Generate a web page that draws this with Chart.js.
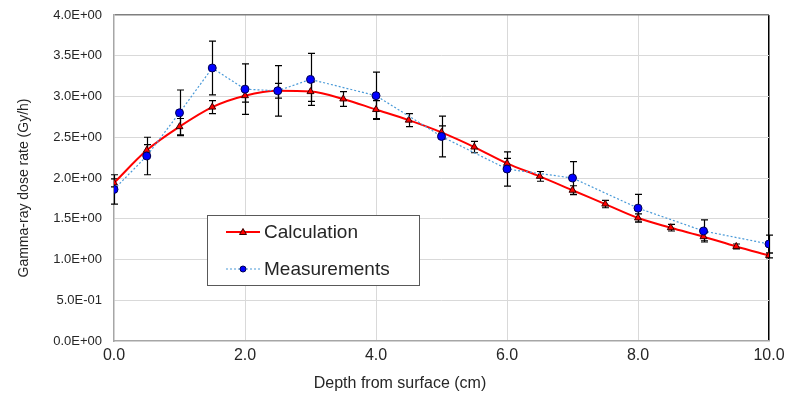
<!DOCTYPE html>
<html>
<head>
<meta charset="utf-8">
<script src="https://cdn.jsdelivr.net/npm/chart.js@4"></script>
<style>
  html, body { margin: 0; padding: 0; background: #fff; }
  #wrap { width: 792px; height: 403px; }
</style>
</head>
<body>
<div id="wrap"><canvas id="c" width="792" height="403"></canvas></div>
<script>
// ---- data ----
const calcDepth = [0,0.5,1,1.5,2,2.5,3,3.5,4,4.5,5,5.5,6,6.5,7,7.5,8,8.5,9,9.5,10];
const calcDose  = [1.94,2.34,2.63,2.87,3.01,3.07,3.06,2.97,2.84,2.71,2.56,2.38,2.18,2.02,1.85,1.68,1.51,1.39,1.28,1.16,1.05];
const calcErr   = [0.05,0.07,0.10,0.08,0.08,0.09,0.12,0.09,0.11,0.08,0.08,0.07,0.06,0.06,0.055,0.045,0.05,0.04,0.05,0.03,0.03];

const measDepth = [0,0.5,1,1.5,2,2.5,3,4,5,6,7,8,9,10];
const measDose  = [1.86,2.27,2.80,3.35,3.09,3.07,3.21,3.01,2.51,2.11,2.00,1.63,1.35,1.19];
const measErr   = [0.18,0.23,0.28,0.33,0.31,0.31,0.32,0.29,0.25,0.21,0.20,0.17,0.135,0.11];

const seriesNames = ['Calculation', 'Measurements'];
const xTitle = 'Depth from surface (cm)';
const yTitle = 'Gamma-ray dose rate (Gy/h)';
const xTicks = [0,2,4,6,8,10];
const yTicks = [0,0.5,1,1.5,2,2.5,3,3.5,4];

const FONT = "'Liberation Sans', Arial, sans-serif";
const TXT = '#262626';

function sci(v) {
  if (v === 0) return '0.0E+00';
  let e = Math.floor(Math.log10(Math.abs(v)) + 1e-9);
  let m = v / Math.pow(10, e);
  const sign = e < 0 ? '-' : '+';
  const ea = Math.abs(e);
  return m.toFixed(1) + 'E' + sign + (ea < 10 ? '0' + ea : ea);
}

const errors = [calcErr, measErr];

const errorBarPlugin = {
  id: 'errbars',
  beforeDatasetsDraw(chart) {
    const ctx = chart.ctx, xs = chart.scales.x, ys = chart.scales.y;
    ctx.save();
    chart.data.datasets.forEach((ds, i) => {
      const err = errors[i];
      ctx.strokeStyle = '#000';
      ctx.lineWidth = 1.2;
      ds.data.forEach((p, j) => {
        const px = Math.round(xs.getPixelForValue(p.x)) + 0.5;
        const yT = ys.getPixelForValue(p.y + err[j]);
        const yB = ys.getPixelForValue(p.y - err[j]);
        ctx.beginPath();
        ctx.moveTo(px, yT); ctx.lineTo(px, yB);
        ctx.moveTo(px - 3.5, yT); ctx.lineTo(px + 3.5, yT);
        ctx.moveTo(px - 3.5, yB); ctx.lineTo(px + 3.5, yB);
        ctx.stroke();
      });
    });
    ctx.restore();
  }
};

const decorPlugin = {
  id: 'decor',
  afterDraw(chart) {
    const ctx = chart.ctx;
    ctx.save();
    // axis titles
    ctx.fillStyle = TXT;
    ctx.font = '16px ' + FONT;
    ctx.textAlign = 'center';
    ctx.textBaseline = 'middle';
    ctx.fillText(xTitle, 400, 384);
    ctx.save();
    ctx.translate(24, 188);
    ctx.rotate(-Math.PI / 2);
    ctx.font = '14px ' + FONT;
    ctx.fillText(yTitle, 0, 0);
    ctx.restore();

    // legend box
    const bx = 207.5, by = 215.5, bw = 212, bh = 70;
    ctx.fillStyle = '#fff';
    ctx.fillRect(bx, by, bw, bh);
    ctx.strokeStyle = '#595959';
    ctx.lineWidth = 1;
    ctx.strokeRect(bx, by, bw, bh);

    const ds = chart.data.datasets;
    const rows = [232, 269];
    rows.forEach((yy, i) => {
      const d = ds[i];
      ctx.save();
      ctx.strokeStyle = d.borderColor;
      ctx.lineWidth = d.borderWidth;
      ctx.setLineDash(d.borderDash || []);
      ctx.beginPath();
      ctx.moveTo(226, yy); ctx.lineTo(260, yy);
      ctx.stroke();
      ctx.restore();
      ctx.fillStyle = d.pointBackgroundColor;
      ctx.strokeStyle = d.pointBorderColor;
      ctx.lineWidth = 1;
      ctx.beginPath();
      if (d.pointStyle === 'triangle') {
        ctx.moveTo(243, yy - 3.5); ctx.lineTo(246.5, yy + 2.5); ctx.lineTo(239.5, yy + 2.5); ctx.closePath();
      } else {
        ctx.arc(243, yy, 3, 0, Math.PI * 2);
      }
      ctx.fill(); ctx.stroke();
      ctx.fillStyle = TXT;
      ctx.font = '19px ' + FONT;
      ctx.textAlign = 'left';
      ctx.textBaseline = 'middle';
      ctx.fillText(seriesNames[i], 264, yy + 1);
    });
    ctx.restore();
  }
};

new Chart(document.getElementById('c'), {
  type: 'scatter',
  data: {
    datasets: [
      {
        label: seriesNames[0],
        data: calcDepth.map((x, i) => ({ x, y: calcDose[i] })),
        showLine: true,
        borderColor: '#ff0000',
        borderWidth: 2,
        cubicInterpolationMode: 'monotone',
        pointStyle: 'triangle',
        pointRadius: 4,
        pointBackgroundColor: '#ff0000',
        pointBorderColor: '#3a0000',
        pointBorderWidth: 1,
        order: 2
      },
      {
        label: seriesNames[1],
        data: measDepth.map((x, i) => ({ x, y: measDose[i] })),
        showLine: true,
        borderColor: '#4a9ad8',
        borderWidth: 1.2,
        borderDash: [2, 2],
        tension: 0,
        pointStyle: 'circle',
        pointRadius: 4,
        pointBackgroundColor: '#0000ff',
        pointBorderColor: '#000050',
        pointBorderWidth: 1,
        order: 1
      }
    ]
  },
  options: {
    responsive: false,
    animation: false,
    devicePixelRatio: 1,
    layout: { padding: { left: 0, right: 23, top: 15, bottom: 0 } },
    plugins: { legend: { display: false }, tooltip: { enabled: false } },
    scales: {
      x: {
        type: 'linear',
        min: 0, max: 10,
        afterBuildTicks: (s) => { s.ticks = xTicks.map(v => ({ value: v })); },
        afterFit: (s) => { s.height = 62; s.paddingLeft = 0; s.paddingRight = 0; },
        ticks: {
          callback: (v) => Number(v).toFixed(1),
          font: { family: FONT, size: 16 },
          color: TXT,
          padding: 5,
          maxRotation: 0
        },
        grid: {
          drawTicks: false,
          color: (c) => c.tick && c.tick.value === 0 ? 'rgba(0,0,0,0)' : (c.tick && c.tick.value === 10 ? '#000' : '#d9d9d9'),
          lineWidth: (c) => c.tick && c.tick.value === 10 ? 1.5 : 1
        },
        border: { color: '#a6a6a6', width: 1.5 }
      },
      y: {
        type: 'linear',
        min: 0, max: 4,
        afterBuildTicks: (s) => { s.ticks = yTicks.map(v => ({ value: v })); },
        afterFit: (s) => { s.width = 114; s.paddingTop = 0; s.paddingBottom = 0; },
        ticks: {
          callback: (v) => sci(Number(v)),
          font: { family: FONT, size: 13 },
          color: TXT,
          padding: 12
        },
        grid: {
          drawTicks: false,
          color: (c) => c.tick && c.tick.value === 0 ? 'rgba(0,0,0,0)' : (c.tick && c.tick.value === 4 ? '#7f7f7f' : '#d9d9d9'),
          lineWidth: (c) => c.tick && c.tick.value === 4 ? 1.5 : 1
        },
        border: { color: '#a6a6a6', width: 1.5 }
      }
    }
  },
  plugins: [errorBarPlugin, decorPlugin]
});
</script>
</body>
</html>
